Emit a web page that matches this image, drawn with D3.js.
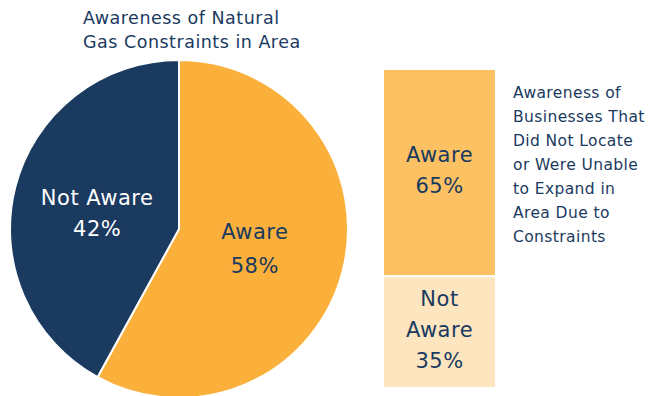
<!DOCTYPE html>
<html>
<head>
<meta charset="utf-8">
<script src="https://cdn.jsdelivr.net/npm/d3@7"></script>
<style>
  html, body { margin: 0; padding: 0; background: #fff; }
  svg { display: block; font-family: "DejaVu Sans", Lato, sans-serif; }
</style>
</head>
<body>
<svg id="chart" width="648" height="396"></svg>
<script>
// Pie: awareness of natural gas constraints in the area
const pieCategories = ["Aware", "Not Aware"];
const pieValues = [58, 42];
const pieColors = ["#FBB03B", "#1A3A60"];

// Stacked bar: awareness of businesses that did not locate / expand
const barCategories = ["Aware", "Not Aware"];
const barValues = [65, 35];
const barColors = ["#FBC163", "#FDE5BF"];

const pieTitle = ["Awareness of Natural", "Gas Constraints in Area"];
const barTitle = ["Awareness of", "Businesses That", "Did Not Locate", "or Were Unable", "to Expand in", "Area Due to", "Constraints"];

const textColor = "#1A3A60";
const svg = d3.select("#chart");

// ---- pie ----
const cx = 179, cy = 229, r = 169;
const pie = d3.pie().sort(null).value(d => d.v);
const pieData = pie(pieCategories.map((c, i) => ({ c, v: pieValues[i], color: pieColors[i] })));
const arc = d3.arc().innerRadius(0).outerRadius(r);

const g = svg.append("g").attr("transform", `translate(${cx},${cy})`);
g.selectAll("path").data(pieData).join("path")
  .attr("d", arc)
  .attr("fill", d => d.data.color)
  .attr("stroke", "#fff")
  .attr("stroke-width", 2);

// slice labels, placed near the slice centroid with a small nudge per slice
const labelArc = d3.arc().innerRadius(r * 0.5).outerRadius(r * 0.5);
const labelNudge = { "Aware": [-6, -11], "Not Aware": [0, -3] };
const pieLabelText = g.selectAll("text.lbl").data(pieData).join("text")
  .attr("class", "lbl")
  .attr("text-anchor", "middle")
  .attr("fill", d => d.data.c === "Aware" ? textColor : "#fff")
  .attr("font-size", 21)
  .attr("letter-spacing", 0.5)
  .attr("transform", d => {
    const [x, y] = labelArc.centroid(d);
    const [nx, ny] = labelNudge[d.data.c];
    return `translate(${x + nx},${y + ny})`;
  });
pieLabelText.append("tspan").attr("x", 0).attr("y", 0).text(d => d.data.c);
pieLabelText.append("tspan").attr("x", 0).attr("y", d => d.data.c === "Aware" ? 34 : 31).text(d => d.data.v + "%");

// pie title
svg.append("text")
  .attr("fill", textColor).attr("font-size", 17.5)
  .attr("letter-spacing", 0.5)
  .selectAll("tspan").data(pieTitle).join("tspan")
  .attr("x", 83).attr("y", (d, i) => 24 + i * 24)
  .text(d => d);

// ---- stacked bar ----
const barX = 383, barW = 113;
const y = d3.scaleLinear().domain([0, 100]).range([69, 388]);
let acc = 0;
const stack = barValues.map((v, i) => {
  const s = { c: barCategories[i], v, y0: acc, y1: acc + v, color: barColors[i] };
  acc += v;
  return s;
});

svg.selectAll("rect.seg").data(stack).join("rect")
  .attr("class", "seg")
  .attr("x", barX)
  .attr("width", barW)
  .attr("y", d => y(d.y0))
  .attr("height", d => y(d.y1) - y(d.y0))
  .attr("fill", d => d.color)
  .attr("stroke", "#fff")
  .attr("stroke-width", 2);

svg.selectAll("text.seglbl").data(stack).join("text")
  .attr("class", "seglbl")
  .attr("text-anchor", "middle")
  .attr("fill", textColor)
  .attr("font-size", 21)
  .attr("letter-spacing", 0.5)
  .each(function (d) {
    const lines = d.c.split(" ").concat([d.v + "%"]);
    const mid = (y(d.y0) + y(d.y1)) / 2;
    const lh = 31;
    const top = mid - (lines.length - 1) * lh / 2;
    d3.select(this).selectAll("tspan").data(lines).join("tspan")
      .attr("x", barX + barW / 2)
      .attr("y", (l, i) => top + i * lh)
      .attr("dy", "0.25em")
      .text(l => l);
  });

// bar title
svg.append("text")
  .attr("fill", textColor).attr("font-size", 15.5)
  .attr("letter-spacing", 0.4)
  .selectAll("tspan").data(barTitle).join("tspan")
  .attr("x", 513)
  .attr("y", (d, i) => 98 + i * 24)
  .text(d => d);
</script>
</body>
</html>
